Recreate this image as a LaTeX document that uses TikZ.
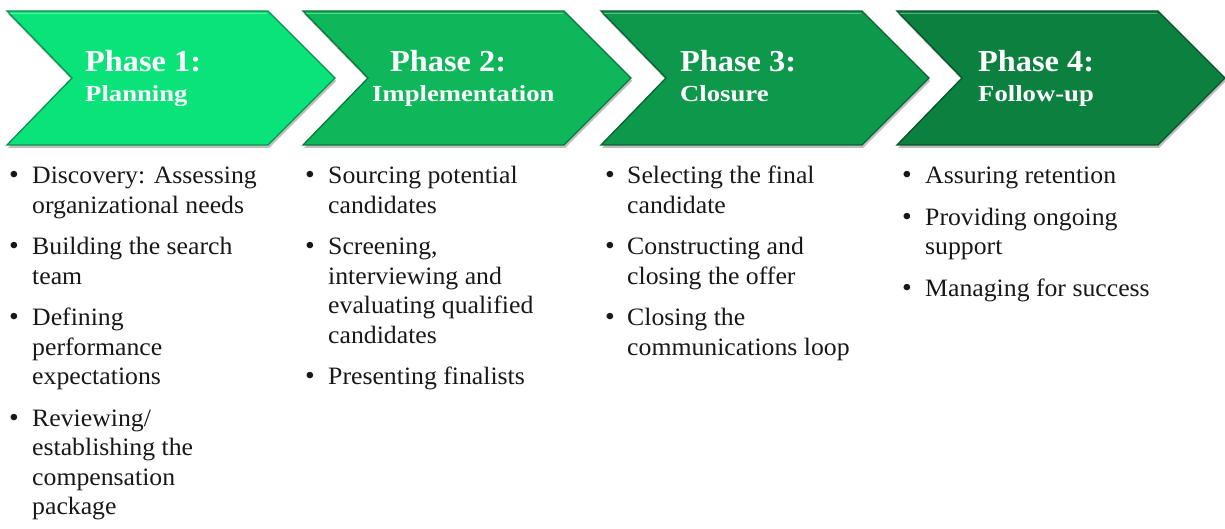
\documentclass[tikz,border=0pt]{standalone}
\usepackage{fontspec}
\setmainfont{Liberation Serif}
\newfontfamily\titlefont{Liberation Serif}[FakeStretch=1.06]
\newfontfamily\subfont{Liberation Serif}[FakeStretch=1.16]
\newfontfamily\bodyfont{Liberation Serif}[FakeStretch=1.03]
\usetikzlibrary{shadows}
\definecolor{gA}{RGB}{10,226,122}
\definecolor{gB}{RGB}{14,184,90}
\definecolor{gC}{RGB}{14,152,76}
\definecolor{gD}{RGB}{12,128,62}
\definecolor{txt}{RGB}{24,24,24}
\begin{document}
\begin{tikzpicture}[x=1pt,y=-1pt,
 chev/.style={draw=#1!65!black, line width=1.3pt, fill=#1, line join=miter,
   drop shadow={shadow xshift=1pt, shadow yshift=-3pt, opacity=0.25, fill=black}},
 hilite/.style={draw=white, opacity=0.35, line width=1.6pt},
 ptitle/.style={anchor=base west, inner sep=0pt, text=white, font=\fontsize{30.5}{36}\selectfont\titlefont\bfseries},
 psub/.style={anchor=base west, inner sep=0pt, text=white, font=\fontsize{23}{26}\selectfont\subfont\bfseries},
 items/.style={anchor=base west, inner sep=0pt, text=txt, font=\fontsize{25}{29.5}\selectfont\bodyfont}
]
\useasboundingbox (0,0) rectangle (1225,529);
\newcommand{\bul}{{\fontsize{27}{27}\selectfont\textbullet}}

% chevrons
\path[chev=gA] (7,11) -- ++(261,0) -- ++(67,67) -- ++(-67,67) -- ++(-261,0) -- ++(65,-67) -- cycle;
\path[chev=gB] (303,11) -- ++(261,0) -- ++(67,67) -- ++(-67,67) -- ++(-261,0) -- ++(65,-67) -- cycle;
\path[chev=gC] (601,11) -- ++(261,0) -- ++(67,67) -- ++(-67,67) -- ++(-261,0) -- ++(65,-67) -- cycle;
\path[chev=gD] (897,11) -- ++(261,0) -- ++(67,67) -- ++(-67,67) -- ++(-261,0) -- ++(65,-67) -- cycle;
\draw[hilite] (10,13.5) -- (267,13.5);
\draw[hilite] (306,13.5) -- (563,13.5);
\draw[hilite] (604,13.5) -- (861,13.5);
\draw[hilite] (900,13.5) -- (1157,13.5);

% titles
\node[ptitle] (t1) at (85,72) {Phase 1:};
\node[psub] (s1) at (85,102) {Planning};
\node[ptitle] (t2) at (390,72) {Phase 2:};
\node[psub] (s2) at (372,102) {Implementation};
\node[ptitle] (t3) at (680,72) {Phase 3:};
\node[psub] (s3) at (680,102) {Closure};
\node[ptitle] (t4) at (978,72) {Phase 4:};
\node[psub] (s4) at (978,102) {Follow-up};

% bullet lists
\node[items] (c1) at (9,184) {\begin{tabular}[t]{@{}p{23pt}@{}l@{}}
\bul & Discovery: Assessing\\
 & organizational needs\\[12pt]
\bul & Building the search\\
 & team\\[12pt]
\bul & Defining\\
 & performance\\
 & expectations\\[12pt]
\bul & Reviewing/\\
 & establishing the\\
 & compensation\\
 & package
\end{tabular}};

\node[items] (c2) at (305,184) {\begin{tabular}[t]{@{}p{23pt}@{}l@{}}
\bul & Sourcing potential\\
 & candidates\\[12pt]
\bul & Screening,\\
 & interviewing and\\
 & evaluating qualified\\
 & candidates\\[12pt]
\bul & Presenting finalists
\end{tabular}};

\node[items] (c3) at (605,184) {\begin{tabular}[t]{@{}p{22pt}@{}l@{}}
\bul & Selecting the final\\
 & candidate\\[12pt]
\bul & Constructing and\\
 & closing the offer\\[12pt]
\bul & Closing the\\
 & communications loop
\end{tabular}};

\node[items] (c4) at (902,184) {\begin{tabular}[t]{@{}p{23pt}@{}l@{}}
\bul & Assuring retention\\[12pt]
\bul & Providing ongoing\\
 & support\\[12pt]
\bul & Managing for success
\end{tabular}};
\end{tikzpicture}
\end{document}
